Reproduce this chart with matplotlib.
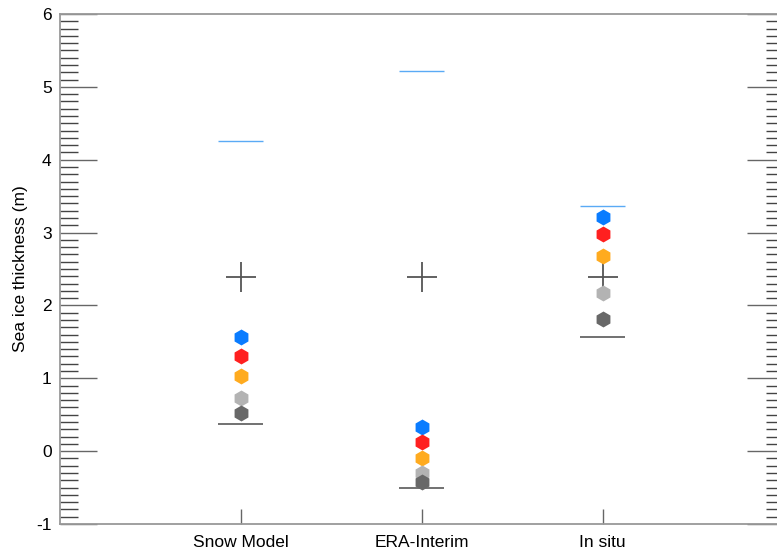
import matplotlib
matplotlib.use("Agg")
import matplotlib.pyplot as plt
from matplotlib.ticker import MultipleLocator, FixedLocator

plt.rcParams['font.family'] = ['Liberation Sans', 'DejaVu Sans']

categories = ['Snow Model', 'ERA-Interim', 'In situ']
upper_line = [4.26, 5.22, 3.36]
lower_line = [0.37, -0.50, 1.57]
cross = [2.39, 2.39, 2.39]
blue = [1.56, 0.33, 3.21]
red = [1.31, 0.12, 2.98]
orange = [1.03, -0.09, 2.68]
lightgray = [0.73, -0.30, 2.17]
darkgray = [0.53, -0.43, 1.82]

xpos = [1, 2, 3]

fig = plt.figure(figsize=(7.77, 5.55), dpi=100)
ax = fig.add_axes([60/777, 31/555, (783.7-60)/777, 510/555])

half = 0.124
ax.hlines(upper_line, [x - half for x in xpos], [x + half for x in xpos],
          colors='#5aaaf5', linewidth=1.0, zorder=3)
ax.hlines(lower_line, [x - half for x in xpos], [x + half for x in xpos],
          colors='#666666', linewidth=1.3, zorder=3)
ax.plot(xpos, cross, linestyle='none', marker='+', markersize=22,
        markeredgewidth=1.3, color='#555555', zorder=2)

series = [(blue, '#0a7cff'), (red, '#ff2020'), (orange, '#ffab1f'),
          (lightgray, '#b3b3b3'), (darkgray, '#686868')]
for vals, col in series:
    ax.plot(xpos, vals, linestyle='none', marker='h', markersize=11.5,
            markeredgewidth=0, color=col, zorder=4)

ax.set_xlim(0, 4)
ax.set_ylim(-1, 6)
ax.xaxis.set_major_locator(FixedLocator(xpos))
ax.set_xticklabels(categories, fontsize=12.5)
ax.yaxis.set_minor_locator(MultipleLocator(0.1))
ax.set_yticks(range(-1, 7))
ax.set_yticklabels([str(v) for v in range(-1, 7)], fontsize=12.5)

ax.tick_params(axis='y', which='major', direction='in', length=26.5, width=1.0,
               color='#666666', left=True, right=True, pad=6)
ax.tick_params(axis='y', which='minor', direction='in', length=13, width=1.0,
               color='#444444', left=True, right=True)
ax.tick_params(axis='x', which='major', direction='in', length=11, width=1.0,
               color='#666666', top=False, bottom=True, pad=8)
ax.tick_params(axis='x', which='minor', bottom=False, top=False)

for s in ax.spines.values():
    s.set_color('#999999')
    s.set_linewidth(1.3)

ax.set_ylabel('Sea ice thickness (m)', fontsize=12.5, labelpad=6)

fig.savefig('out.png', dpi=100)
